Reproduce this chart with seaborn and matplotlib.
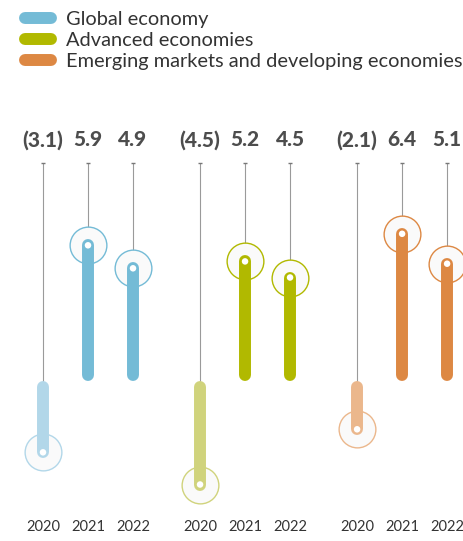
import numpy as np
import pandas as pd
import seaborn as sns
import matplotlib.pyplot as plt
from matplotlib.lines import Line2D

groups = ["Global economy", "Advanced economies", "Emerging markets and developing economies"]
years = ["2020", "2021", "2022"]
global_growth = [-3.1, 5.9, 4.9]
advanced_growth = [-4.5, 5.2, 4.5]
emerging_growth = [-2.1, 6.4, 5.1]

colors = ["#74BBD6", "#B1B900", "#DD8843"]
light_colors = ["#B2D7E9", "#D0D37C", "#EBB78C"]

sns.set_theme(style="white")
plt.rcParams["font.family"] = ["Lato", "DejaVu Sans"]

rows = []
for g, vals in enumerate([global_growth, advanced_growth, emerging_growth]):
    for j, v in enumerate(vals):
        rows.append({"group": groups[g], "year": years[j], "value": v,
                     "x": g * 3.49 + j,
                     "color": light_colors[g] if v < 0 else colors[g]})
df = pd.DataFrame(rows)

fig = plt.figure(figsize=(4.63, 5.41), dpi=100)
ax = fig.add_axes([0, 0, 1, 1])
px = 23.0   # pixels per unit
zero = 381  # pixel row of the zero line
ax.set_xlim(-43 / 45, 420 / 45)
ax.set_ylim((zero - 541) / px, zero / px)
ax.axis("off")

top = (zero - 163) / px
cap = 6 / px

# thin guide lines from the top down to the bar
for _, r in df.iterrows():
    end = r["value"] if r["value"] > 0 else 0
    ax.plot([r["x"], r["x"]], [top, end], color="#9a9a9a", lw=0.8, zorder=1)
    ax.plot([r["x"]], [top], marker="_", color="#777777", ms=3, mew=1, zorder=1)

# rings around the dots
for _, r in df.iterrows():
    ax.scatter(r["x"], r["value"], s=700, facecolor="#fafafa",
               edgecolor=r["color"], linewidth=1.0, zorder=2)

# thick rounded bars
for _, r in df.iterrows():
    base = cap if r["value"] > 0 else -cap
    ax.plot([r["x"], r["x"]], [base, r["value"]], color=r["color"], lw=8.6,
            solid_capstyle="round", zorder=3)

# white dots at the value
sns.scatterplot(data=df, x="x", y="value", color="white", s=22,
                edgecolor="none", zorder=4, ax=ax, legend=False)
ax.set_xlabel("")
ax.set_ylabel("")

# value labels and year labels
for _, r in df.iterrows():
    v = r["value"]
    lab = f"({abs(v):.1f})" if v < 0 else f"{v:.1f}"
    ax.text(r["x"], (zero - 140) / px, lab, ha="center", va="center",
            fontsize=15, fontweight="black", color="#4d4d4d")
    ax.text(r["x"], (zero - 527) / px, r["year"], ha="center", va="center",
            fontsize=10.5, color="#333333")

handles = [Line2D([0], [0], color=c, lw=8.6, solid_capstyle="round") for c in colors]
fig.legend(handles, groups, loc="upper left", bbox_to_anchor=(0.054, 0.979),
           frameon=False, fontsize=14.4, handlelength=1.3, handletextpad=0.75,
           labelspacing=0.2, borderaxespad=0, borderpad=0, labelcolor="#333333")

fig.savefig("out.png", dpi=100)
